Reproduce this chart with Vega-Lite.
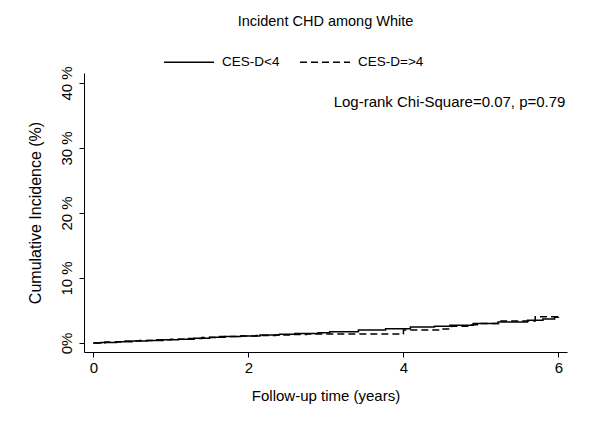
{
  "$schema": "https://vega.github.io/schema/vega-lite/v6.json",
  "autosize": "none",
  "width": 483,
  "height": 279,
  "padding": {"left": 84, "top": 73, "right": 33, "bottom": 77},
  "background": "white",
  "config": {
    "view": {"stroke": null},
    "font": "Liberation Sans",
    "axis": {"grid": false, "domainColor": "black", "tickColor": "black", "labelColor": "black", "titleColor": "black", "labelFont": "Liberation Sans", "titleFont": "Liberation Sans", "labelFontSize": 15, "titleFontSize": 15, "titleFontWeight": "normal", "tickSize": 5},
    "legend": {"labelFont": "Liberation Sans", "labelFontSize": 13.5, "labelColor": "black"},
    "title": {"font": "Liberation Sans", "fontSize": 14.5, "fontWeight": "normal", "color": "black"}
  },
  "title": {"text": "Incident CHD among White", "anchor": "middle", "offset": 7},
  "data": {"values": [
    {"group": "CES-D<4", "t": 0.0, "ci": 0.0},
    {"group": "CES-D<4", "t": 0.1, "ci": 0.08},
    {"group": "CES-D<4", "t": 0.3, "ci": 0.2},
    {"group": "CES-D<4", "t": 0.5, "ci": 0.3},
    {"group": "CES-D<4", "t": 0.7, "ci": 0.4},
    {"group": "CES-D<4", "t": 0.9, "ci": 0.5},
    {"group": "CES-D<4", "t": 1.1, "ci": 0.6},
    {"group": "CES-D<4", "t": 1.3, "ci": 0.75},
    {"group": "CES-D<4", "t": 1.5, "ci": 0.9},
    {"group": "CES-D<4", "t": 1.7, "ci": 1.0},
    {"group": "CES-D<4", "t": 1.9, "ci": 1.1},
    {"group": "CES-D<4", "t": 2.15, "ci": 1.25},
    {"group": "CES-D<4", "t": 2.4, "ci": 1.35},
    {"group": "CES-D<4", "t": 2.6, "ci": 1.45},
    {"group": "CES-D<4", "t": 2.9, "ci": 1.6},
    {"group": "CES-D<4", "t": 3.05, "ci": 1.75},
    {"group": "CES-D<4", "t": 3.42, "ci": 2.0},
    {"group": "CES-D<4", "t": 3.77, "ci": 2.2},
    {"group": "CES-D<4", "t": 4.09, "ci": 2.45},
    {"group": "CES-D<4", "t": 4.4, "ci": 2.6},
    {"group": "CES-D<4", "t": 4.6, "ci": 2.75},
    {"group": "CES-D<4", "t": 4.9, "ci": 3.0},
    {"group": "CES-D<4", "t": 5.22, "ci": 3.25},
    {"group": "CES-D<4", "t": 5.6, "ci": 3.5},
    {"group": "CES-D<4", "t": 5.8, "ci": 3.7},
    {"group": "CES-D<4", "t": 5.95, "ci": 3.95},
    {"group": "CES-D<4", "t": 6.0, "ci": 4.0},
    {"group": "CES-D=>4", "t": 0.0, "ci": 0.0},
    {"group": "CES-D=>4", "t": 0.15, "ci": 0.15},
    {"group": "CES-D=>4", "t": 0.35, "ci": 0.3},
    {"group": "CES-D=>4", "t": 0.6, "ci": 0.4},
    {"group": "CES-D=>4", "t": 0.8, "ci": 0.5},
    {"group": "CES-D=>4", "t": 1.0, "ci": 0.6},
    {"group": "CES-D=>4", "t": 1.2, "ci": 0.7},
    {"group": "CES-D=>4", "t": 1.4, "ci": 0.85},
    {"group": "CES-D=>4", "t": 1.6, "ci": 1.0},
    {"group": "CES-D=>4", "t": 1.85, "ci": 1.1},
    {"group": "CES-D=>4", "t": 2.1, "ci": 1.15},
    {"group": "CES-D=>4", "t": 2.35, "ci": 1.25},
    {"group": "CES-D=>4", "t": 2.55, "ci": 1.32},
    {"group": "CES-D=>4", "t": 2.75, "ci": 1.38},
    {"group": "CES-D=>4", "t": 4.0, "ci": 2.0},
    {"group": "CES-D=>4", "t": 4.5, "ci": 2.15},
    {"group": "CES-D=>4", "t": 4.62, "ci": 2.6},
    {"group": "CES-D=>4", "t": 4.85, "ci": 2.8},
    {"group": "CES-D=>4", "t": 5.0, "ci": 3.0},
    {"group": "CES-D=>4", "t": 5.23, "ci": 3.4},
    {"group": "CES-D=>4", "t": 5.7, "ci": 4.05},
    {"group": "CES-D=>4", "t": 6.0, "ci": 4.1}
  ]},
  "layer": [
    {
      "mark": {"type": "line", "interpolate": "step-after", "color": "black", "strokeWidth": 1.5},
      "encoding": {
        "x": {"field": "t", "type": "quantitative", "scale": {"domain": [-0.12, 6.11], "nice": false, "zero": false},
          "axis": {"values": [0, 2, 4, 6], "format": "d", "title": "Follow-up time (years)", "labelPadding": 3, "titlePadding": 13}},
        "y": {"field": "ci", "type": "quantitative", "scale": {"domain": [-1.38, 41.54], "nice": false, "zero": false},
          "axis": {"values": [0, 10, 20, 30, 40], "title": "Cumulative Incidence  (%)", "titleFontSize": 16, "labelAngle": -90, "labelExpr": "datum.value == 0 ? '0%' : datum.value + ' %'", "labelPadding": 5, "titlePadding": 16}},
        "strokeDash": {"field": "group", "type": "nominal",
          "scale": {"domain": ["CES-D<4", "CES-D=>4"], "range": [[1, 0], [7, 4]]},
          "legend": {"title": null, "orient": "none", "direction": "horizontal", "legendX": 79, "legendY": -37, "symbolType": "stroke", "symbolSize": 2500, "symbolStrokeColor": "black", "symbolStrokeWidth": 1.5, "labelOffset": 7, "columnPadding": 17}}
      }
    },
    {
      "data": {"values": [{"label": "Log-rank Chi-Square=0.07, p=0.79", "t": 3.1, "ci": 37.1}]},
      "mark": {"type": "text", "align": "left", "baseline": "middle", "fontSize": 15, "color": "black"},
      "encoding": {
        "x": {"field": "t", "type": "quantitative"},
        "y": {"field": "ci", "type": "quantitative"},
        "text": {"field": "label"}
      }
    }
  ]
}
